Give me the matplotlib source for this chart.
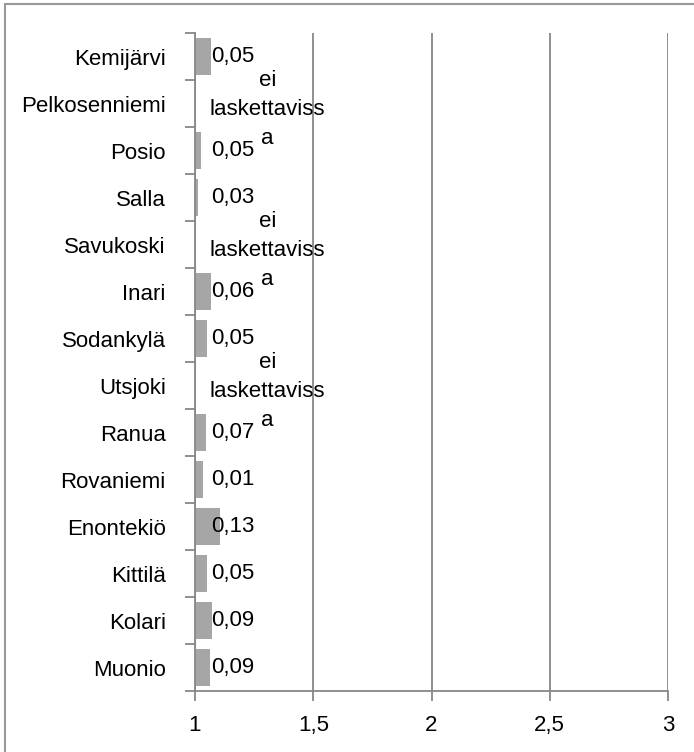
import matplotlib.pyplot as plt
from matplotlib.patches import Rectangle

# kunnat ylhäältä alas
kunnat = ['Kemijärvi', 'Pelkosenniemi', 'Posio', 'Salla', 'Savukoski', 'Inari',
          'Sodankylä', 'Utsjoki', 'Ranua', 'Rovaniemi', 'Enontekiö', 'Kittilä',
          'Kolari', 'Muonio']
# palkkien arvot (akseli alkaa ykkösestä), None = ei laskettavissa
arvot = [1.068, None, 1.024, 1.013, None, 1.068, 1.051, None, 1.047, 1.034,
         1.106, 1.049, 1.073, 1.062]
# palkkien tekstit
tekstit = ['0,05', 'ei\nlaskettaviss\na', '0,05', '0,03', 'ei\nlaskettaviss\na',
           '0,06', '0,05', 'ei\nlaskettaviss\na', '0,07', '0,01', '0,13', '0,05',
           '0,09', '0,09']
xtikit = [1, 1.5, 2, 2.5, 3]
xnimet = ['1', '1,5', '2', '2,5', '3']

harmaa = '#878787'
plt.rcParams['font.family'] = ['Liberation Sans', 'DejaVu Sans']
plt.rcParams['font.size'] = 16

fig = plt.figure(figsize=(6.94, 7.52), dpi=100)
ax = fig.add_axes([195/694, 61/752, (668-195)/694, (719-61)/752])

y = list(range(len(kunnat)))
for i, a in enumerate(arvot):
    if a is not None:
        ax.barh(i, a - 1, left=1, height=0.8, color='#a6a6a6', zorder=2)
    if '\n' in tekstit[i]:
        ax.text(1.306, i + 0.12, tekstit[i], ha='center', va='center',
                linespacing=1.5, zorder=3)
    else:
        ax.text(1.067, i, tekstit[i], ha='left', va='center', zorder=3)

ax.set_xlim(1, 3)
ax.set_ylim(len(kunnat) - 0.5, -0.5)
ax.set_xticks(xtikit)
ax.set_xticklabels(xnimet)
ax.set_yticks(y)
ax.set_yticklabels(kunnat)
ax.set_yticks([i - 0.5 for i in range(len(kunnat) + 1)], minor=True)
ax.tick_params(axis='y', which='major', length=0, pad=21)
ax.tick_params(axis='y', which='minor', length=7, color=harmaa, width=1.3)
ax.tick_params(axis='x', length=7, color=harmaa, width=1.3, pad=10)
ax.grid(axis='x', color=harmaa, linewidth=1.3, zorder=1)

for s in ['top', 'right']:
    ax.spines[s].set_visible(False)
for s in ['left', 'bottom']:
    ax.spines[s].set_color(harmaa)
    ax.spines[s].set_linewidth(1.3)

# kehys kuvan ympärillä
fig.patches.append(Rectangle((5/694, -0.1), 1.2, 1.1 - 4/752,
                             transform=fig.transFigure, fill=False,
                             edgecolor='#9a9a9a', linewidth=1.5))

fig.savefig('out.png', dpi=100)
